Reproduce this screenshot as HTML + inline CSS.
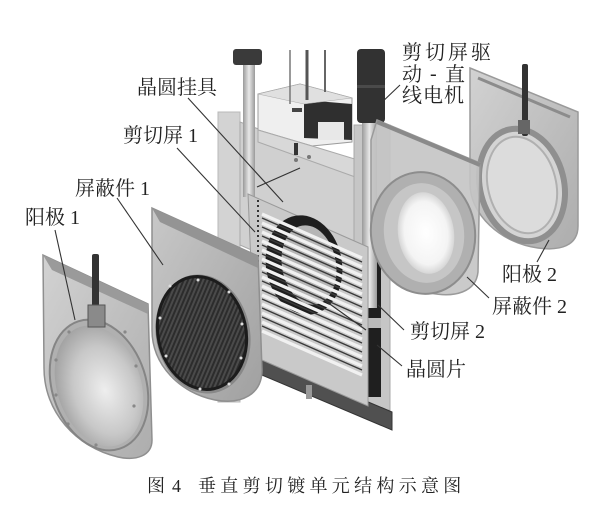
<!DOCTYPE html>
<html><head><meta charset="utf-8"><style>
html,body{margin:0;padding:0;background:#fff;}
svg{display:block;}
text{font-family:"Liberation Serif","Noto Serif CJK SC","Noto Sans CJK SC",serif;fill:#222;}
</style></head><body>
<svg width="600" height="507" viewBox="0 0 600 507" xmlns="http://www.w3.org/2000/svg">
<defs>
<linearGradient id="plate" x1="0" y1="0" x2="1" y2="1">
<stop offset="0" stop-color="#c8c8c8"/><stop offset="1" stop-color="#a0a0a0"/></linearGradient>
<linearGradient id="plateL" x1="0" y1="0" x2="1" y2="1">
<stop offset="0" stop-color="#d2d2d2"/><stop offset="1" stop-color="#adadad"/></linearGradient>
<radialGradient id="dome" cx="0.55" cy="0.55" r="0.6">
<stop offset="0" stop-color="#eeeeee"/><stop offset="0.6" stop-color="#c8c8c8"/><stop offset="1" stop-color="#9d9d9d"/></radialGradient>
<radialGradient id="hole" cx="0.5" cy="0.5" r="0.55">
<stop offset="0" stop-color="#ffffff"/><stop offset="0.7" stop-color="#f4f4f4"/><stop offset="1" stop-color="#c9c9c9"/></radialGradient>
<pattern id="mesh" width="4" height="4" patternUnits="userSpaceOnUse" patternTransform="rotate(35)">
<rect width="4" height="4" fill="#2c2c2c"/><rect width="2" height="4" fill="#4a4a4a"/></pattern>
<linearGradient id="rod" x1="0" y1="0" x2="1" y2="0">
<stop offset="0" stop-color="#9a9a9a"/><stop offset="0.5" stop-color="#e8e8e8"/><stop offset="1" stop-color="#9a9a9a"/></linearGradient>
</defs>

<!-- 阳极 2 (far right) -->
<path d="M470,68 L578,112 L578,226 C578,246 560,251 538,248 C500,243 470,214 470,184 Z" fill="url(#plateL)" stroke="#9a9a9a" stroke-width="1.5"/>
<path d="M478,78 L570,117" stroke="#8c8c8c" stroke-width="3"/>
<ellipse cx="522" cy="185" rx="42" ry="57" transform="rotate(-14 522 185)" fill="#d4d4d4" stroke="#8f8f8f" stroke-width="6"/>
<ellipse cx="522" cy="185" rx="34" ry="49" transform="rotate(-14 522 185)" fill="#dcdcdc" stroke="#b0b0b0" stroke-width="2"/>
<rect x="522" y="64" width="6" height="72" rx="2" fill="#333"/>
<rect x="518" y="120" width="12" height="14" fill="#666"/>

<!-- central back post -->
<rect x="218" y="112" width="22" height="290" fill="#d3d3d3" stroke="#b8b8b8"/>
<!-- wafer holder plate -->
<polygon points="240,122 362,168 365,300 240,245" fill="#d0d0d0" stroke="#aaa"/>
<!-- top block -->
<polygon points="258,94 300,84 352,98 352,142 312,146 258,130" fill="#efefef" stroke="#9c9c9c"/>
<polygon points="258,130 312,146 358,160 358,178 258,142" fill="#d8d8d8" stroke="#aaa"/>
<polygon points="304,100 352,104 352,140 304,138" fill="#2f2f2f"/>
<rect x="318" y="122" width="26" height="18" fill="#e8e8e8"/>
<polygon points="300,84 352,98 304,104 258,94" fill="#e0e0e0" stroke="#aaa" stroke-width="0.6"/>
<rect x="292" y="108" width="10" height="4" fill="#444"/>
<rect x="294" y="143" width="4" height="12" fill="#333"/>
<circle cx="296" cy="160" r="2" fill="#777"/><circle cx="309" cy="157" r="2" fill="#777"/>
<!-- wires -->
<line x1="290" y1="50" x2="290" y2="104" stroke="#777" stroke-width="1.5"/>
<line x1="307" y1="50" x2="307" y2="100" stroke="#555" stroke-width="3"/>
<line x1="325" y1="50" x2="325" y2="92" stroke="#666" stroke-width="2"/>
<!-- left rod -->
<rect x="243" y="62" width="12" height="135" fill="url(#rod)"/>
<rect x="233" y="49" width="29" height="16" rx="3" fill="#3a3a3a"/>
<!-- right post -->
<rect x="354" y="125" width="36" height="285" fill="#c6c6c6" stroke="#a8a8a8"/>
<rect x="367" y="252" width="14" height="145" fill="#1f1f1f"/>
<rect x="367" y="318" width="14" height="10" fill="#bbb"/>
<!-- motor + rod -->
<rect x="362" y="118" width="15" height="190" fill="url(#rod)"/>
<rect x="357" y="49" width="28" height="74" rx="4" fill="#323232"/>
<rect x="357" y="85" width="28" height="3" fill="#4a4a4a"/>

<!-- 屏蔽件 2 -->
<path d="M377,120 L480,163 L478,272 C476,292 455,298 430,293 C395,284 371,258 371,226 L371,140 Z" fill="#c4c4c4" fill-opacity="0.9" stroke="#9a9a9a" stroke-width="1.5"/>
<path d="M377,122 L480,165" stroke="#8a8a8a" stroke-width="4"/>
<ellipse cx="423" cy="233" rx="52" ry="61" transform="rotate(-8 423 233)" fill="#b0b0b0" stroke="#8d8d8d" stroke-width="2"/>
<ellipse cx="424" cy="233" rx="40" ry="50" transform="rotate(-8 424 233)" fill="#c6c6c6"/>
<ellipse cx="426" cy="233" rx="28" ry="41" transform="rotate(-8 426 233)" fill="url(#hole)"/>

<!-- bottom beam -->
<polygon points="250,352 392,412 392,430 250,370" fill="#505050" stroke="#333"/>
<rect x="306" y="385" width="6" height="14" fill="#999"/>
<!-- louver panel (剪切屏 1) -->
<polygon points="248,194 368,247 368,406 255,357" fill="#c9c9c9" stroke="#9a9a9a"/>
<ellipse cx="304" cy="265" rx="38" ry="50" transform="rotate(-10 304 265)" fill="#1e1e1e"/>
<ellipse cx="309" cy="265" rx="27" ry="40" transform="rotate(-10 309 265)" fill="#b5b5b5"/>
<g stroke="#f1f1f1" stroke-width="3.2">
<line x1="262" y1="214" x2="362" y2="258"/>
<line x1="262" y1="223" x2="362" y2="267"/>
<line x1="262" y1="232" x2="362" y2="276"/>
<line x1="262" y1="241" x2="362" y2="285"/>
<line x1="262" y1="250" x2="362" y2="294"/>
<line x1="262" y1="259" x2="362" y2="303"/>
<line x1="262" y1="268" x2="362" y2="312"/>
<line x1="262" y1="277" x2="362" y2="321"/>
<line x1="262" y1="286" x2="362" y2="330"/>
<line x1="262" y1="295" x2="362" y2="339"/>
<line x1="262" y1="304" x2="362" y2="348"/>
<line x1="262" y1="313" x2="362" y2="357"/>
<line x1="262" y1="322" x2="362" y2="366"/>
<line x1="262" y1="331" x2="362" y2="375"/>
</g>
<g stroke="#3a3a3a" stroke-width="1.4">
<line x1="262" y1="218" x2="362" y2="262"/>
<line x1="262" y1="227" x2="362" y2="271"/>
<line x1="262" y1="236" x2="362" y2="280"/>
<line x1="262" y1="245" x2="362" y2="289"/>
<line x1="262" y1="254" x2="362" y2="298"/>
<line x1="262" y1="263" x2="362" y2="307"/>
<line x1="262" y1="272" x2="362" y2="316"/>
<line x1="262" y1="281" x2="362" y2="325"/>
<line x1="262" y1="290" x2="362" y2="334"/>
<line x1="262" y1="299" x2="362" y2="343"/>
<line x1="262" y1="308" x2="362" y2="352"/>
<line x1="262" y1="317" x2="362" y2="361"/>
<line x1="262" y1="326" x2="362" y2="370"/>
</g>
<line x1="258" y1="200" x2="258" y2="350" stroke="#333" stroke-width="2" stroke-dasharray="2 3"/>
<line x1="257" y1="187" x2="300" y2="168" stroke="#333" stroke-width="1.2"/>

<!-- 屏蔽件 1 -->
<path d="M152,208 L258,256 L262,370 C262,394 242,405 215,400 C180,393 152,365 152,330 Z" fill="url(#plate)" stroke="#8f8f8f" stroke-width="1.5"/>
<polygon points="152,208 258,256 258,268 160,222" fill="#949494"/>
<ellipse cx="203" cy="334" rx="47" ry="60" transform="rotate(-12 203 334)" fill="#888" />
<ellipse cx="202" cy="333" rx="44" ry="57" transform="rotate(-12 202 333)" fill="url(#mesh)" stroke="#1c1c1c" stroke-width="3"/>
<g fill="#ddd">
<circle cx="170" cy="286" r="1.5"/><circle cx="198" cy="280" r="1.5"/><circle cx="229" cy="292" r="1.5"/>
<circle cx="160" cy="318" r="1.5"/><circle cx="242" cy="324" r="1.5"/><circle cx="166" cy="356" r="1.5"/>
<circle cx="241" cy="358" r="1.5"/><circle cx="200" cy="389" r="1.5"/><circle cx="229" cy="384" r="1.5"/>
</g>

<!-- 阳极 1 -->
<path d="M43,255 L148,304 L152,440 C152,456 136,461 118,457 C76,447 44,412 44,368 Z" fill="url(#plateL)" stroke="#8f8f8f" stroke-width="1.5"/>
<polygon points="43,255 148,304 148,314 52,270" fill="#9a9a9a"/>
<ellipse cx="99" cy="385" rx="47" ry="67" transform="rotate(-18 99 385)" fill="#b0b0b0" stroke="#858585" stroke-width="2"/>
<ellipse cx="99" cy="386" rx="42" ry="62" transform="rotate(-18 99 386)" fill="url(#dome)"/>
<rect x="92" y="254" width="7" height="62" rx="2" fill="#333"/>
<rect x="88" y="305" width="17" height="22" fill="#8a8a8a" stroke="#555"/>
<g fill="#888">
<circle cx="69" cy="332" r="1.6"/><circle cx="56" cy="360" r="1.6"/><circle cx="56" cy="395" r="1.6"/>
<circle cx="68" cy="424" r="1.6"/><circle cx="96" cy="445" r="1.6"/><circle cx="134" cy="406" r="1.6"/>
<circle cx="136" cy="366" r="1.6"/><circle cx="125" cy="332" r="1.6"/>
</g>

<!-- leader lines -->
<g stroke="#333" stroke-width="1.1">
<line x1="188" y1="98" x2="283" y2="202"/>
<line x1="177" y1="148" x2="255" y2="232"/>
<line x1="117" y1="198" x2="163" y2="265"/>
<line x1="55" y1="230" x2="75" y2="320"/>
<line x1="400" y1="85" x2="378" y2="106"/>
<line x1="549" y1="240" x2="537" y2="262"/>
<line x1="467" y1="277" x2="489" y2="298"/>
<line x1="378" y1="305" x2="404" y2="330"/>
<line x1="377" y1="345" x2="402" y2="366"/>
<line x1="320" y1="297" x2="366" y2="330"/>
</g>

<!-- labels -->
<g font-size="20">
<text x="137" y="94">晶圆挂具</text>
<text x="123" y="142">剪切屏 1</text>
<text x="75" y="195">屏蔽件 1</text>
<text x="25" y="224">阳极 1</text>
<text x="402" y="59" letter-spacing="3">剪切屏驱</text>
<text x="402" y="81">动</text>
<text x="430" y="80">-</text>
<text x="445" y="81">直</text>
<text x="402" y="102" letter-spacing="1">线电机</text>
<text x="502" y="281">阳极 2</text>
<text x="492" y="313">屏蔽件 2</text>
<text x="410" y="338">剪切屏 2</text>
<text x="406" y="376">晶圆片</text>
</g>
<text x="147" y="492" font-size="18">图</text>
<text x="172" y="492" font-size="18">4</text>
<text x="198" y="492" font-size="18" letter-spacing="4.3">垂直剪切镀单元结构示意图</text>
</svg>
</body></html>
